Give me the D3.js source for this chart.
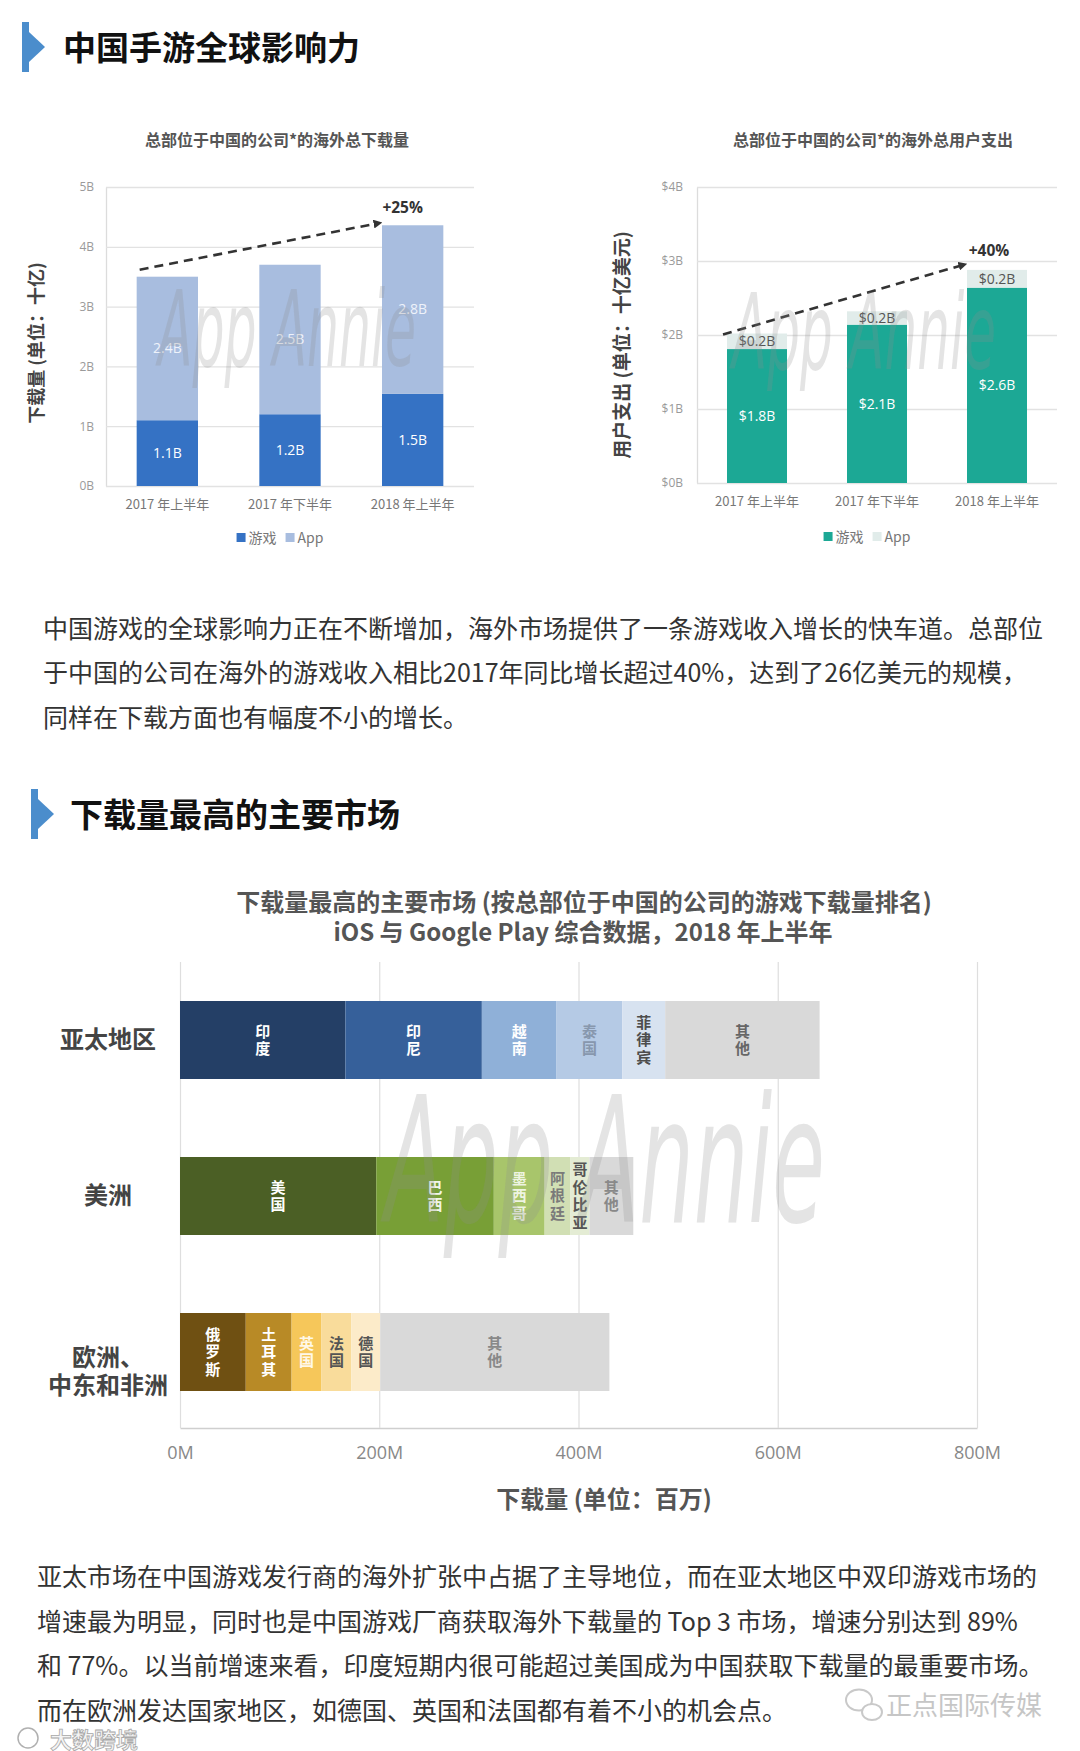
<!DOCTYPE html>
<html>
<head>
<meta charset="utf-8">
<script src="https://cdn.jsdelivr.net/npm/d3@7"></script>
<style>
  body { margin: 0; background: #fff; }
  svg  { display: block; }
</style>
</head>
<body>
<script>

var width  = 1080;
var height = 1751;

// top two column charts (billions)
var periods     = ['2017 年上半年', '2017 年下半年', '2018 年上半年'];
var dlGames     = [1.1, 1.2, 1.54];
var dlApps      = [2.4, 2.5, 2.82];
var dlTicks     = [0, 1, 2, 3, 4, 5];
var spendGames  = [1.81, 2.14, 2.64];
var spendApps   = [0.21, 0.18, 0.24];
var spendTicks  = [0, 1, 2, 3, 4];

// bottom stacked bar chart (millions of downloads)
var regions      = ['亚太地区', '美洲', '欧洲、中东和非洲'];
var regionLines  = [['亚太地区'], ['美洲'], ['欧洲、', '中东和非洲']];
var apacMarkets  = ['印度', '印尼', '越南', '泰国', '菲律宾', '其他'];
var apacValues   = [166, 137, 75, 66, 43, 155];
var amerMarkets  = ['美国', '巴西', '墨西哥', '阿根廷', '哥伦比亚', '其他'];
var amerValues   = [197, 118, 51, 26, 19, 44];
var emeaMarkets  = ['俄罗斯', '土耳其', '英国', '法国', '德国', '其他'];
var emeaValues   = [66, 46, 30, 30, 29, 230];
var marketTicks  = [0, 200, 400, 600, 800];

var para1 = [
  '中国游戏的全球影响力正在不断增加，海外市场提供了一条游戏收入增长的快车道。总部位',
  '于中国的公司在海外的游戏收入相比2017年同比增长超过40%，达到了26亿美元的规模，',
  '同样在下载方面也有幅度不小的增长。'
];
var para2 = [
  '亚太市场在中国游戏发行商的海外扩张中占据了主导地位，而在亚太地区中双印游戏市场的',
  '增速最为明显，同时也是中国游戏厂商获取海外下载量的 Top 3 市场，增速分别达到 89%',
  '和 77%。以当前增速来看，印度短期内很可能超过美国成为中国获取下载量的最重要市场。',
  '而在欧洲发达国家地区，如德国、英国和法国都有着不小的机会点。'
];


var CJK = '"Noto Sans CJK SC", "Noto Sans", sans-serif';
var LAT = '"Open Sans", "Noto Sans CJK SC", sans-serif';

var svg = d3.select('body')
            .append('svg')
            .attr('width', width)
            .attr('height', height);

svg.append('rect').attr('width', width).attr('height', height).attr('fill', '#fff');

svg.append('defs').append('marker')
   .attr('id', 'arrow')
   .attr('viewBox', '0 0 10 10')
   .attr('refX', 5).attr('refY', 5)
   .attr('markerWidth', 3.4).attr('markerHeight', 3.4)
   .attr('orient', 'auto')
   .append('path')
   .attr('d', 'M0,0L10,5L0,10z')
   .attr('fill', '#333');


// section heading with the blue tab
function heading(x0, y0, text, tx, ty) {
  var g = svg.append('g');
  g.append('rect').attr('x', x0).attr('y', y0).attr('width', 7).attr('height', 50).attr('fill', '#4b8dcc');
  g.append('path')
   .attr('d', 'M' + (x0 + 7) + ',' + (y0 + 10) + 'L' + (x0 + 23) + ',' + (y0 + 25) + 'L' + (x0 + 7) + ',' + (y0 + 40) + 'Z')
   .attr('fill', '#4b8dcc');
  g.append('text').attr('x', tx).attr('y', ty)
   .attr('fill', '#111')
   .style('font', 'bold 33px ' + CJK)
   .text(text);
}

function paragraph(lines, x0, firstCenter, step) {
  svg.append('g').selectAll('text')
     .data(lines)
     .enter()
     .append('text')
     .attr('x', x0)
     .attr('y', function(d, i) { return firstCenter + i * step; })
     .attr('dy', '0.36em')
     .attr('fill', '#333')
     .style('font', '25px ' + CJK)
     .text(function(d) { return d; });
}

function watermark(cx, baseline, len, size) {
  svg.append('text')
     .attr('x', cx - len / 2).attr('y', baseline)
     .attr('textLength', len).attr('lengthAdjust', 'spacingAndGlyphs')
     .attr('fill', '#8f8f8f').attr('fill-opacity', 0.24)
     .style('font', 'italic ' + size + 'px "Liberation Sans Narrow", "DejaVu Sans", sans-serif')
     .text('App Annie');
}


function columnChart(cfg) {
  var g = svg.append('g');

  var rows = periods.map(function(p, i) { return { period: p, game: cfg.games[i], app: cfg.apps[i] }; });
  var series = d3.stack().keys(['game', 'app'])(rows);

  var x = d3.scaleBand().domain(periods).range(cfg.xRange).paddingInner(0.5).paddingOuter(0.25);
  var y = d3.scaleLinear().domain([0, d3.max(cfg.ticks)]).range(cfg.yRange);
  var plotW = cfg.xRange[1] - cfg.xRange[0];

  var yAxis = g.append('g')
               .attr('transform', 'translate(' + cfg.xRange[0] + ',0)')
               .call(d3.axisLeft(y).tickValues(cfg.ticks).tickSize(-plotW).tickSizeOuter(0)
                       .tickPadding(cfg.tickPad).tickFormat(cfg.tickFmt));
  yAxis.select('.domain').attr('stroke', '#dcdcdc').attr('stroke-width', 1.3);
  yAxis.selectAll('.tick line').attr('stroke', '#e2e2e2').attr('stroke-width', 1.3);
  yAxis.selectAll('.tick text').attr('fill', '#9a9a9a').style('font', '12px ' + LAT);

  var xAxis = g.append('g')
               .attr('transform', 'translate(0,' + cfg.yRange[0] + ')')
               .call(d3.axisBottom(x).tickSize(0).tickPadding(14));
  xAxis.select('.domain').remove();
  xAxis.selectAll('text').attr('fill', '#777').style('font', '13px ' + CJK);

  g.selectAll('g.layer')
   .data(series)
   .enter()
   .append('g')
   .attr('fill', function(d) { return cfg.colors[d.key]; })
   .selectAll('rect')
   .data(function(d) { return d; })
   .enter()
   .append('rect')
   .attr('x', function(d) { return x(d.data.period); })
   .attr('y', function(d) { return y(d[1]); })
   .attr('width', x.bandwidth())
   .attr('height', function(d) { return y(d[0]) - y(d[1]); });

  watermark(cfg.mark[0], cfg.mark[1], cfg.mark[2], 105);

  series.forEach(function(s) {
    g.append('g').selectAll('text')
     .data(s)
     .enter()
     .append('text')
     .attr('x', function(d) { return x(d.data.period) + x.bandwidth() / 2; })
     .attr('y', function(d) { return (y(d[0]) + y(d[1])) / 2; })
     .attr('dy', '0.35em')
     .attr('text-anchor', 'middle')
     .attr('fill', cfg.ink[s.key])
     .style('font', '14px ' + LAT)
     .text(function(d) { return cfg.valueFmt(d[1] - d[0]); });
  });

  // growth arrow from first to last column
  var t0 = cfg.games[0] + cfg.apps[0];
  var t2 = cfg.games[2] + cfg.apps[2];
  g.append('line')
   .attr('x1', x(periods[0]) + cfg.arrowFrom[0]).attr('y1', y(t0) + cfg.arrowFrom[1])
   .attr('x2', x(periods[2]) + cfg.arrowTo[0]).attr('y2', y(t2) + cfg.arrowTo[1])
   .attr('stroke', '#333').attr('stroke-width', 2.6)
   .attr('stroke-dasharray', '9,6')
   .attr('marker-end', 'url(#arrow)');
  g.append('text')
   .attr('x', x(periods[2]) + x.bandwidth() / 2 + cfg.growthPos[0])
   .attr('y', y(t2) + cfg.growthPos[1])
   .attr('text-anchor', 'middle')
   .attr('fill', '#333')
   .style('font', 'bold 15.5px ' + LAT)
   .text(cfg.growth);

  g.append('text')
   .attr('x', cfg.titlePos[0]).attr('y', cfg.titlePos[1])
   .attr('text-anchor', 'middle')
   .attr('fill', '#555')
   .style('font', 'bold 16px ' + CJK)
   .text(cfg.title);

  g.append('text')
   .attr('transform', 'translate(' + cfg.yTitlePos[0] + ',' + cfg.yTitlePos[1] + ') rotate(-90)')
   .attr('text-anchor', 'middle')
   .attr('dy', '0.35em')
   .attr('fill', '#444')
   .style('font', 'bold ' + cfg.yTitleSize + 'px ' + CJK)
   .text(cfg.yTitle);

  // legend
  var lg = g.append('g');
  var cursor = 0;
  [{ key: 'game', label: '游戏' }, { key: 'app', label: 'App' }].forEach(function(item) {
    lg.append('rect').attr('x', cursor).attr('y', -5).attr('width', 9).attr('height', 9)
      .attr('fill', cfg.colors[item.key]);
    var t = lg.append('text').attr('x', cursor + 12).attr('dy', '0.35em')
              .attr('fill', '#777').style('font', '14px ' + CJK).text(item.label);
    cursor += 12 + t.node().getComputedTextLength() + 9;
  });
  cursor -= 9;
  lg.attr('transform', 'translate(' + (cfg.legendPos[0] - cursor / 2) + ',' + cfg.legendPos[1] + ')');
}


heading(22, 22, '中国手游全球影响力', 63, 60);

columnChart({
  games: dlGames, apps: dlApps, ticks: dlTicks,
  xRange: [106, 474], yRange: [486, 187],
  tickPad: 12,
  tickFmt: function(d) { return d + 'B'; },
  valueFmt: function(v) { return d3.format('.1f')(v) + 'B'; },
  colors: { game: '#3572c4', app: '#a8bddf' },
  ink: { game: '#ffffff', app: '#eef2fa' },
  arrowFrom: [3, -7], arrowTo: [-4, -2],
  growth: '+25%', growthPos: [-10, -12],
  title: '总部位于中国的公司*的海外总下载量', titlePos: [277, 146],
  yTitle: '下载量 (单位：十亿)', yTitleSize: 18, yTitlePos: [37, 343],
  legendPos: [280, 538],
  mark: [287, 366, 258]
});

columnChart({
  games: spendGames, apps: spendApps, ticks: spendTicks,
  xRange: [697, 1057], yRange: [483, 187],
  tickPad: 14,
  tickFmt: function(d) { return '$' + d + 'B'; },
  valueFmt: function(v) { return '$' + d3.format('.1f')(v) + 'B'; },
  colors: { game: '#1ca895', app: '#e1ecea' },
  ink: { game: '#ffffff', app: '#555555' },
  arrowFrom: [-4, 1], arrowTo: [-4, -5],
  growth: '+40%', growthPos: [-8, -14],
  title: '总部位于中国的公司*的海外总用户支出', titlePos: [873, 146],
  yTitle: '用户支出 (单位：十亿美元)', yTitleSize: 19, yTitlePos: [622, 345],
  legendPos: [867, 537],
  mark: [864, 369, 264]
});

paragraph(para1, 43, 628.5, 44.7);

heading(31, 789, '下载量最高的主要市场', 70, 827);


// bottom chart
var regionValues  = [apacValues, amerValues, emeaValues];
var regionMarkets = [apacMarkets, amerMarkets, emeaMarkets];
var regionFills = [
  ['#243f66', '#36609a', '#8fb0d8', '#b5cae5', '#d7e2f0', '#d9d9d9'],
  ['#4b5f25', '#789f36', '#a8c56b', '#d1dfb4', '#e4ecd4', '#d9d9d9'],
  ['#6f5012', '#b88a26', '#f6c75a', '#f9dc9b', '#fcebc9', '#d9d9d9']
];
var regionInk = [
  ['#ffffff', '#ffffff', '#ffffff', '#8797ad', '#4d4d4d', '#666666'],
  ['#ffffff', '#f2f6ea', '#eef4e2', '#7a7a7a', '#555555', '#888888'],
  ['#ffffff', '#ffffff', '#fff8e8', '#555555', '#555555', '#888888']
];

var bTop  = 962;
var bAxis = 1428;

var xM = d3.scaleLinear().domain([0, 800]).range([180, 977]);
var yR = d3.scaleBand().domain(regions).range([bTop, 1430]).paddingInner(0.5).paddingOuter(0.25);

var gx = svg.append('g')
            .attr('transform', 'translate(0,' + bAxis + ')')
            .call(d3.axisBottom(xM).tickValues(marketTicks).tickSize(-(bAxis - bTop)).tickSizeOuter(0)
                    .tickPadding(18).tickFormat(function(d) { return d + 'M'; }));
gx.select('.domain').attr('stroke', '#cfcfcf').attr('stroke-width', 1.6);
gx.selectAll('.tick line').attr('stroke', '#dedede').attr('stroke-width', 1.2);
gx.selectAll('.tick text').attr('fill', '#888').style('font', '18px ' + LAT);

var segLabels = [];

regions.forEach(function(r, ri) {
  var vals = regionValues[ri];
  var ends = d3.cumsum(vals);
  var segs = vals.map(function(v, i) {
    return { name: regionMarkets[ri][i], start: ends[i] - v, end: ends[i],
             fill: regionFills[ri][i], ink: regionInk[ri][i], region: r };
  });
  svg.append('g').selectAll('rect')
     .data(segs)
     .enter()
     .append('rect')
     .attr('x', function(d) { return xM(d.start); })
     .attr('width', function(d) { return xM(d.end) - xM(d.start); })
     .attr('y', yR(r))
     .attr('height', yR.bandwidth())
     .attr('fill', function(d) { return d.fill; });
  segLabels = segLabels.concat(segs);
});

svg.append('g').selectAll('text')
   .data(segLabels)
   .enter()
   .append('text')
   .attr('text-anchor', 'middle')
   .attr('fill', function(d) { return d.ink; })
   .style('font', 'bold 15px ' + CJK)
   .each(function(d) {
     var chars = Array.from(d.name);
     var cx = (xM(d.start) + xM(d.end)) / 2;
     var cy = yR(d.region) + yR.bandwidth() / 2;
     var t = d3.select(this);
     chars.forEach(function(c, k) {
       t.append('tspan')
        .attr('x', cx)
        .attr('y', cy + (k - (chars.length - 1) / 2) * 17.5)
        .attr('dy', '0.35em')
        .text(c);
     });
   });

svg.append('g').selectAll('text')
   .data(regions)
   .enter()
   .append('text')
   .attr('text-anchor', 'middle')
   .attr('fill', '#444')
   .style('font', 'bold 24px ' + CJK)
   .each(function(r, i) {
     var lines = regionLines[i];
     var cy = yR(r) + yR.bandwidth() / 2 + (lines.length > 1 ? 6 : 0);
     var t = d3.select(this);
     lines.forEach(function(line, k) {
       t.append('tspan').attr('x', 108).attr('y', cy + k * 28).attr('dy', '0.35em').text(line);
     });
   });

watermark(605, 1222, 440, 175);

svg.append('text')
   .attr('x', 584).attr('y', 903).attr('dy', '0.35em')
   .attr('text-anchor', 'middle').attr('fill', '#555')
   .style('font', 'bold 24px ' + CJK)
   .text('下载量最高的主要市场 (按总部位于中国的公司的游戏下载量排名)');
svg.append('text')
   .attr('x', 583).attr('y', 933).attr('dy', '0.35em')
   .attr('text-anchor', 'middle').attr('fill', '#555')
   .style('font', 'bold 24px ' + CJK)
   .text('iOS 与 Google Play 综合数据，2018 年上半年');

svg.append('text')
   .attr('x', 604).attr('y', 1500).attr('dy', '0.35em')
   .attr('text-anchor', 'middle').attr('fill', '#555')
   .style('font', 'bold 24px ' + CJK)
   .text('下载量 (单位：百万)');

paragraph(para2, 37, 1577, 44.7);

// source watermarks
var wm = svg.append('g').attr('fill', 'none').attr('stroke', '#c9c9c9').attr('stroke-width', 2);
wm.append('ellipse').attr('cx', 859).attr('cy', 1700).attr('rx', 13).attr('ry', 10.5);
wm.append('ellipse').attr('cx', 872).attr('cy', 1712).attr('rx', 10).attr('ry', 8).attr('fill', '#fff');
svg.append('text')
   .attr('x', 886).attr('y', 1706).attr('dy', '0.35em')
   .attr('fill', '#c6c6c6')
   .style('font', '26px ' + CJK)
   .text('正点国际传媒');
svg.append('text')
   .attr('x', 50).attr('y', 1740).attr('dy', '0.35em')
   .attr('fill', '#f4f4f4').attr('stroke', '#a8a8a8').attr('stroke-width', 0.8)
   .style('font', 'bold 22px ' + CJK)
   .text('大数跨境');
svg.append('circle').attr('cx', 28).attr('cy', 1738).attr('r', 10)
   .attr('fill', 'none').attr('stroke', '#b0b0b0').attr('stroke-width', 1.5);

</script>
</body>
</html>
